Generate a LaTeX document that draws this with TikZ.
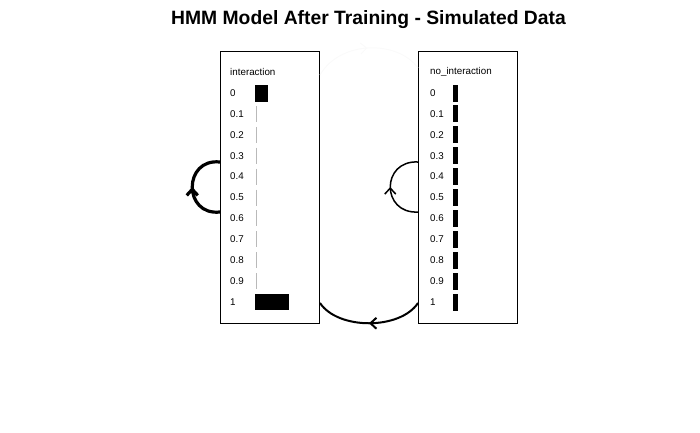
\documentclass[tikz,border=0pt]{standalone}
\usepackage{fontspec}
\setmainfont{Liberation Sans}
\usetikzlibrary{arrows.meta,decorations.markings}
\begin{document}
\begin{tikzpicture}[x=1pt,y=-1pt]
\tikzset{
 box/.style={draw=black, line width=0.8pt, minimum width=99pt, minimum height=272pt, inner sep=0pt, anchor=north west},
 lab/.style={anchor=west, font=\fontsize{9.8}{9.8}\selectfont, inner sep=0pt},
 barfill/.style={fill=black, draw=none},
 thinbar/.style={draw=gray!55, line width=0.8pt},
 arrowmid/.style={postaction={decorate}, decoration={markings, mark=at position #1 with {\arrow{Straight Barb[length=6pt,width=11pt]}}}},
}
\useasboundingbox (0,0) rectangle (700,432);
\node[font=\bfseries\fontsize{19.3}{19.3}\selectfont] (title) at (368.5,20) {HMM Model After Training - Simulated Data};
\node[box] (L) at (220,51) {};
\node[box] (R) at (418,51) {};
\node[lab] (Lname) at (230,72) {interaction};
\node[lab] (Rname) at (430,72) {no\_interaction};
\foreach \v [count=\i from 0] in {0,0.1,0.2,0.3,0.4,0.5,0.6,0.7,0.8,0.9,1} {
  \pgfmathsetmacro{\yy}{93+20.9*\i}
  \node[lab] (Ll\i) at (230,\yy) {\v};
  \node[lab] (Rl\i) at (430,\yy) {\v};
  \path[barfill] (453,\yy-8.5) rectangle (458,\yy+8.5);
}
\foreach \i in {1,...,9} {
  \pgfmathsetmacro{\yy}{93+20.9*\i}
  \draw[thinbar] (256,\yy-8) -- (256,\yy+8);
}
\path[barfill] (255,85) rectangle (268,101.5);
\path[barfill] (255,294) rectangle (289,310);
% connectors
\coordinate (Lb) at (220,212);
\coordinate (Lt) at (220,162);
\coordinate (Rb) at (418,212);
\coordinate (Rt) at (418,162);
\coordinate (Rlow) at (418,303);
\coordinate (Llow) at (320,303);
\coordinate (Lhigh) at (320,75);
\coordinate (Rhigh) at (418,68);
\draw[line width=3.2pt, arrowmid=0.5] (Lb) .. controls (183,216) and (183,158) .. (Lt);
\draw[line width=1.5pt, arrowmid=0.5] (Rb) .. controls (381,214) and (381,160) .. (Rt);
\draw[line width=2pt, arrowmid=0.5] (Rlow) .. controls (400,330) and (338,330) .. (Llow);
\draw[draw=gray!4, line width=1pt, arrowmid=0.5] (Lhigh) .. controls (340,40) and (398,40) .. (Rhigh);
\end{tikzpicture}
\end{document}
